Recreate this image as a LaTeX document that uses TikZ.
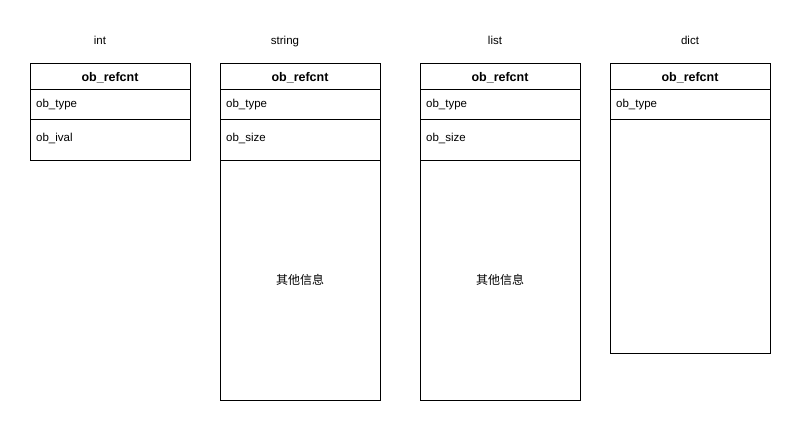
\documentclass[tikz,border=0pt]{standalone}
\usepackage{fontspec}
\setmainfont{Liberation Sans}
\newfontfamily\cjk{Noto Sans CJK SC}
\usetikzlibrary{positioning}

\begin{document}
\begin{tikzpicture}[x=1pt, y=-1pt,
  cell/.style={draw, minimum width=160pt, inner sep=0pt, outer sep=0pt, line width=0.8pt},
  hdr/.style={cell, minimum height=26pt, text height=11.5pt, text depth=0pt, font=\fontsize{12.5}{14}\selectfont\bfseries},
  fld/.style={anchor=west, inner sep=0pt, font=\fontsize{11.5}{13}\selectfont},
  ttl/.style={anchor=base, inner sep=0pt, font=\fontsize{11.5}{13}\selectfont}]

  \useasboundingbox (0,0) rectangle (801,431);

  % int
  \node[ttl] (il) at (100,45) {int};
  \node[hdr] (ih) at (110,76) {ob\_refcnt};
  \node[cell, minimum height=30pt, below=0pt of ih] (it) {};
  \node[cell, minimum height=41pt, below=0pt of it] (iv) {};
  \node[fld] (itt) at ([xshift=6pt, yshift=-1pt]it.west) {ob\_type};
  \node[fld] (ivt) at ([xshift=6pt, yshift=-19.5pt]iv.north west) {ob\_ival};

  % string
  \node[ttl] (sl) at (285,45) {string};
  \node[hdr] (sh) at (300,76) {ob\_refcnt};
  \node[cell, minimum height=30pt, below=0pt of sh] (st) {};
  \node[cell, minimum height=41pt, below=0pt of st] (ss) {};
  \node[cell, minimum height=240pt, below=0pt of ss] (so) {\cjk\fontsize{12}{14}\selectfont 其他信息};
  \node[fld] (stt) at ([xshift=6pt, yshift=-1pt]st.west) {ob\_type};
  \node[fld] (sst) at ([xshift=6pt, yshift=-19.5pt]ss.north west) {ob\_size};

  % list
  \node[ttl] (ll) at (495,45) {list};
  \node[hdr] (lh) at (500,76) {ob\_refcnt};
  \node[cell, minimum height=30pt, below=0pt of lh] (lt) {};
  \node[cell, minimum height=41pt, below=0pt of lt] (ls) {};
  \node[cell, minimum height=240pt, below=0pt of ls] (lo) {\cjk\fontsize{12}{14}\selectfont 其他信息};
  \node[fld] (ltt) at ([xshift=6pt, yshift=-1pt]lt.west) {ob\_type};
  \node[fld] (lst) at ([xshift=6pt, yshift=-19.5pt]ls.north west) {ob\_size};

  % dict
  \node[ttl] (dl) at (690,45) {dict};
  \node[hdr] (dh) at (690,76) {ob\_refcnt};
  \node[cell, minimum height=30pt, below=0pt of dh] (dt) {};
  \node[cell, minimum height=234pt, below=0pt of dt] (dr) {};
  \node[fld] (dtt) at ([xshift=6pt, yshift=-1pt]dt.west) {ob\_type};
\end{tikzpicture}
\end{document}
